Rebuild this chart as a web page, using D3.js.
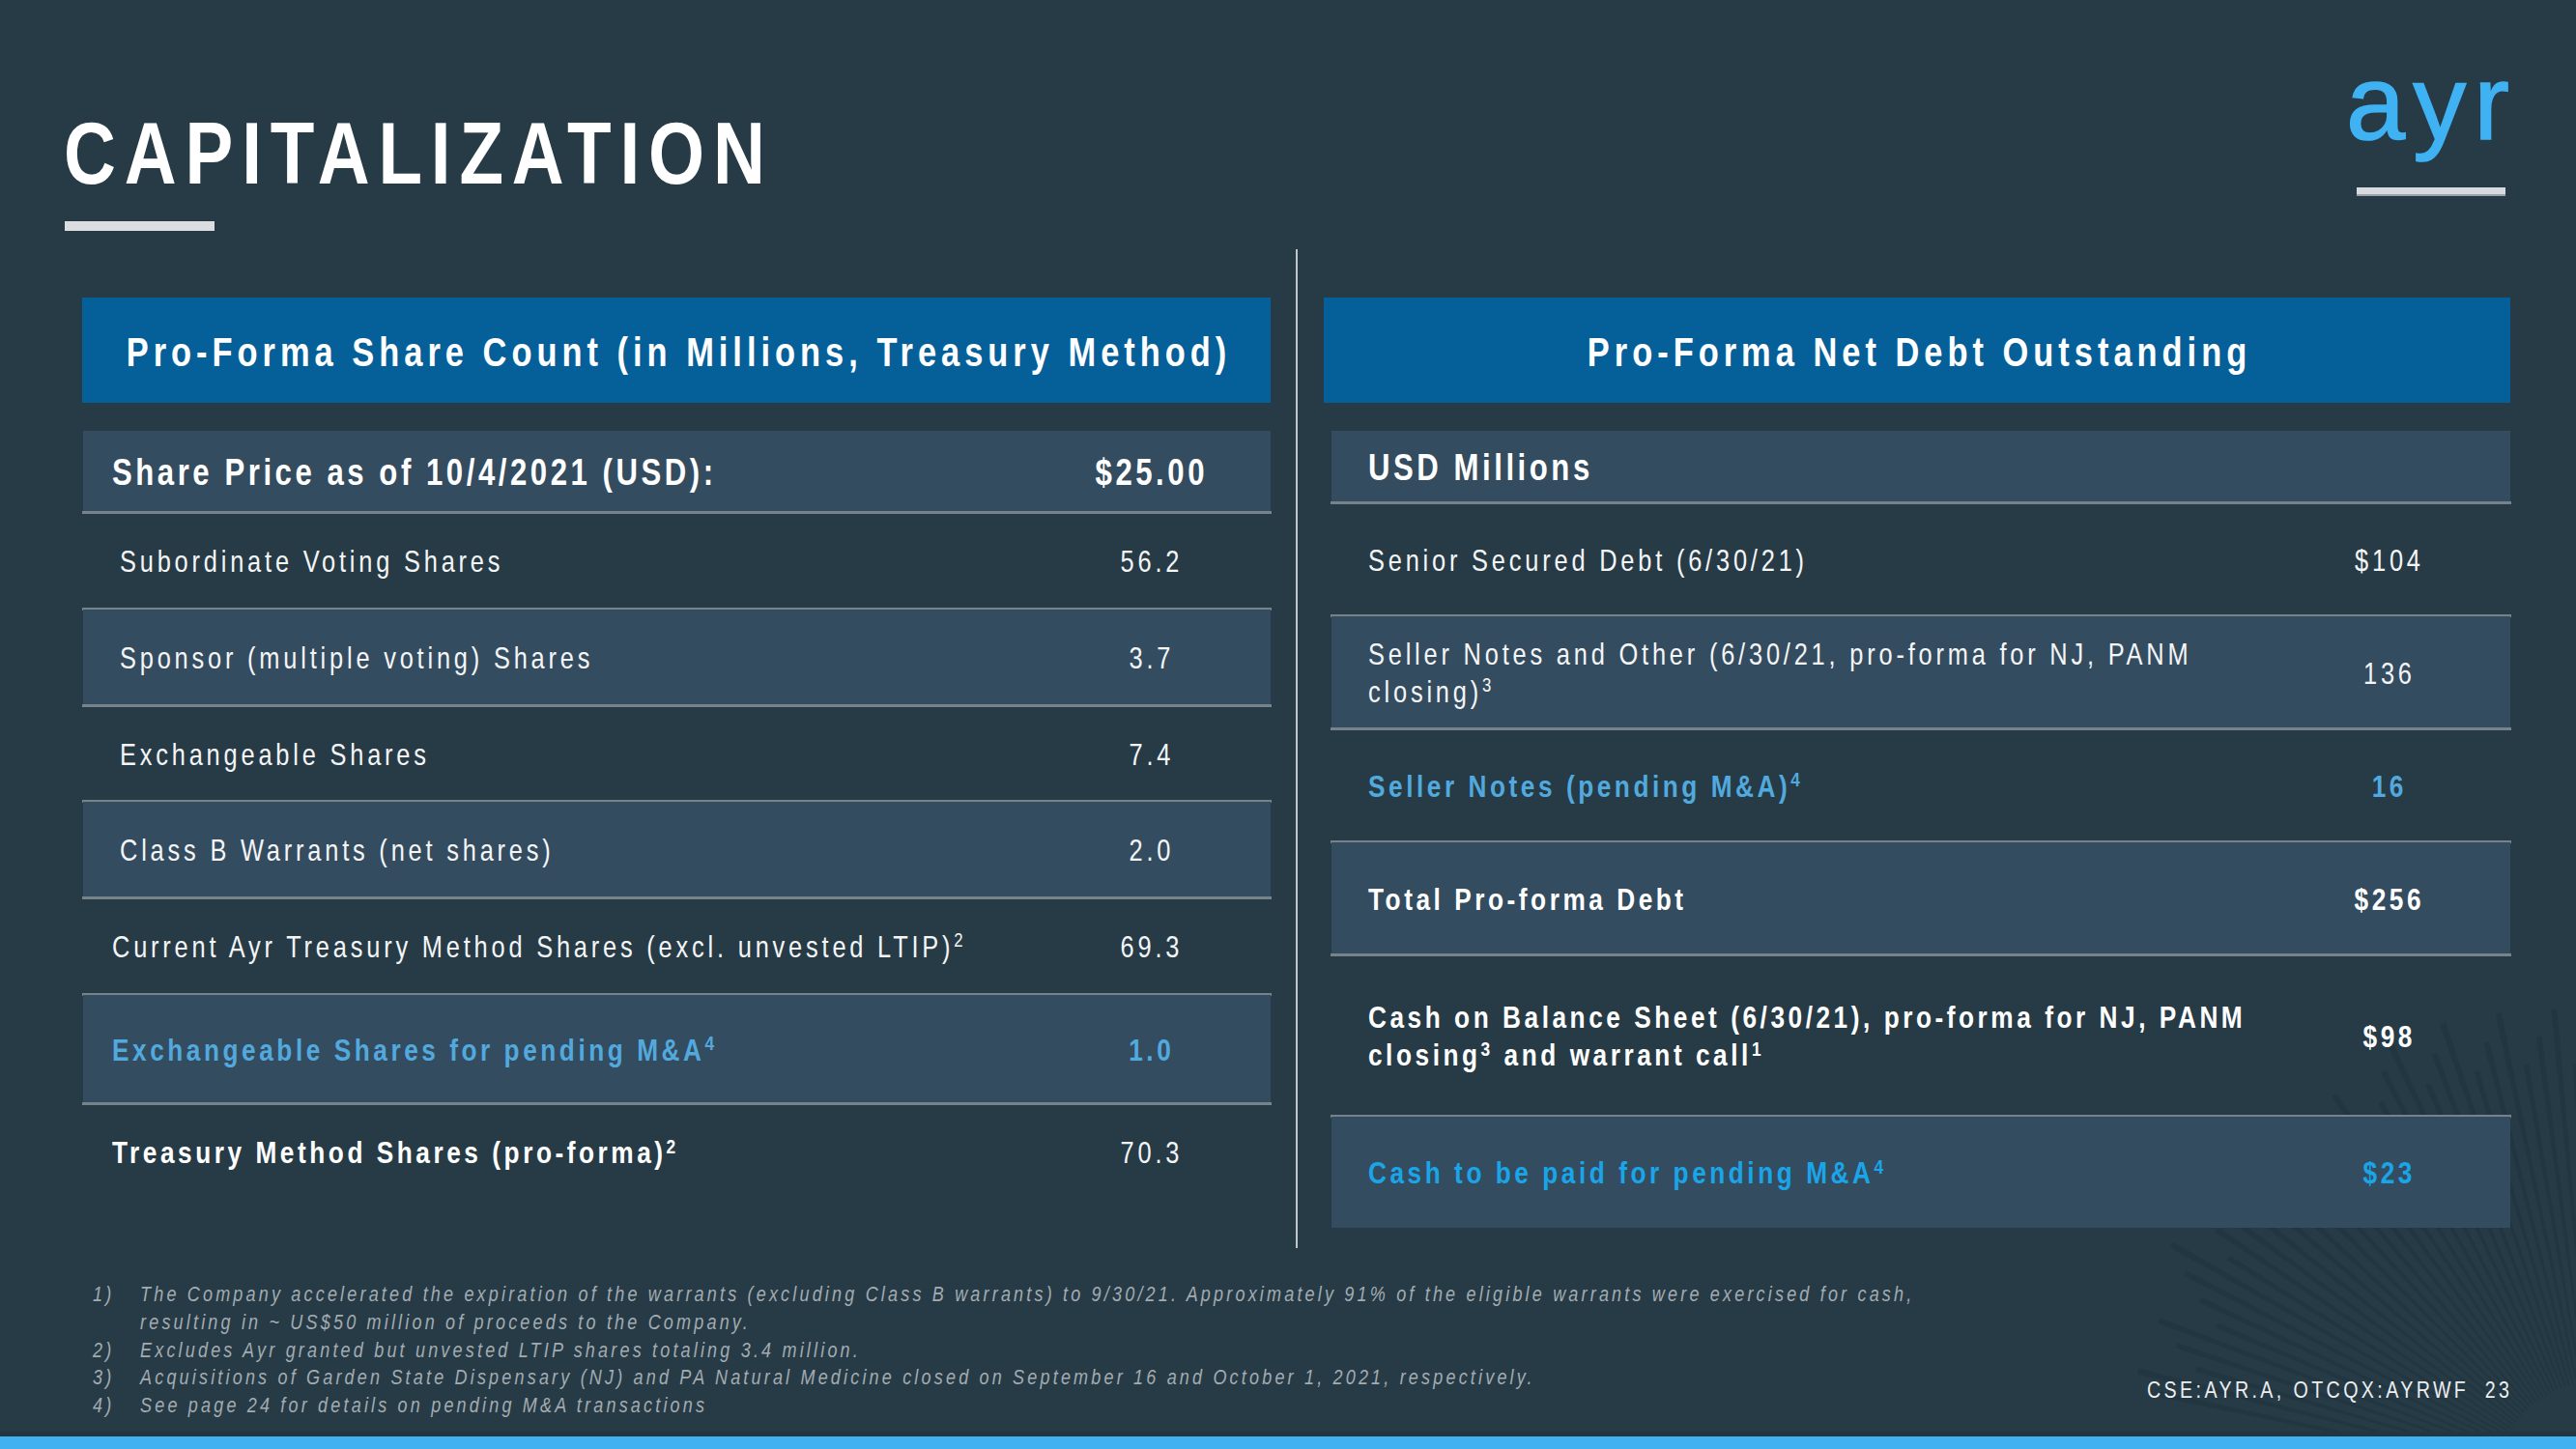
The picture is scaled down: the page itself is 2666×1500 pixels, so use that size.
<!DOCTYPE html>
<html>
<head>
<meta charset="utf-8">
<script src="https://cdn.jsdelivr.net/npm/d3@7"></script>
<style>
  html, body { margin: 0; padding: 0; background: #263b46; }
  svg { display: block; }
  text { font-family: "Liberation Sans", Arial, sans-serif; }
</style>
</head>
<body>
<div id="slide"></div>
<script>
// ---- slide content ----
const slideTitle = "CAPITALIZATION";
const logoText = "ayr";
const leftTitle = "Pro-Forma Share Count (in Millions, Treasury Method)";
const rightTitle = "Pro-Forma Net Debt Outstanding";

// "^n" marks a footnote superscript, "\n" a line break
const shareLabels = [
  "Share Price as of 10/4/2021 (USD):",
  "Subordinate Voting Shares",
  "Sponsor (multiple voting) Shares",
  "Exchangeable Shares",
  "Class B Warrants (net shares)",
  "Current Ayr Treasury Method Shares (excl. unvested LTIP)^2",
  "Exchangeable Shares for pending M&A^4",
  "Treasury Method Shares (pro-forma)^2"
];
const shareValues = ["$25.00", "56.2", "3.7", "7.4", "2.0", "69.3", "1.0", "70.3"];

const debtLabels = [
  "USD Millions",
  "Senior Secured Debt (6/30/21)",
  "Seller Notes and Other (6/30/21, pro-forma for NJ, PANM\nclosing)^3",
  "Seller Notes (pending M&A)^4",
  "Total Pro-forma Debt",
  "Cash on Balance Sheet (6/30/21), pro-forma for NJ, PANM\nclosing^3 and warrant call^1",
  "Cash to be paid for pending M&A^4"
];
const debtValues = ["", "$104", "136", "16", "$256", "$98", "$23"];

const footNumbers = ["1)", "", "2)", "3)", "4)"];
const footLines = [
  "The Company accelerated the expiration of the warrants (excluding Class B warrants) to 9/30/21.  Approximately 91% of the eligible warrants were exercised for cash,",
  "resulting in ~ US$50 million of proceeds to the Company.",
  "Excludes Ayr granted but unvested LTIP shares totaling 3.4 million.",
  "Acquisitions of Garden State Dispensary (NJ) and PA Natural Medicine closed on September 16 and October 1, 2021, respectively.",
  "See page 24 for details on pending M&A transactions"
];
const tickerText = "CSE:AYR.A, OTCQX:AYRWF";
const pageNumber = "23";

// ---- look ----
const W = 2666, H = 1500;
const bg = "#263b46";
const rowFill = "#344c60";
const headFill = "#05609a";
const ruleColor = "#77838b";
const softBlue = "#52a9dd";
const cyan = "#19a5e8";
const white = "#ffffff";

const NARROW = 0.82; // Arial Narrow look: Liberation Sans squeezed horizontally

const styles = {
  title:   { size: 91, weight: 700, sx: NARROW, ref: "CAPITALIZATION", width: 726 },
  head:    { size: 42, weight: 700, sx: NARROW, ref: "Pro-Forma Share Count (in Millions, Treasury Method)", width: 1139 },
  rowHead: { size: 38, weight: 700, sx: NARROW, ref: "Share Price as of 10/4/2021", width: 492 },
  body:    { size: 31, weight: 400, sx: NARROW, ref: "Current Ayr Treasury Method Shares (excl. unvested LTIP)", width: 868 },
  bold:    { size: 32, weight: 700, sx: NARROW, ref: "Cash on Balance Sheet (6/30/21), pro-forma for NJ, PANM", width: 905 },
  foot:    { size: 22, weight: 400, sx: NARROW, italic: true, ref: footLines[0], width: 1837 },
  ticker:  { size: 24, weight: 400, sx: NARROW, ref: tickerText, width: 330 },
  logo:    { size: 110, weight: 400, sx: 1, ref: logoText, width: 169 }
};

const svg = d3.select("#slide").append("svg")
  .attr("width", W).attr("height", H);

svg.append("rect").attr("width", W).attr("height", H).attr("fill", bg);

// letter-spacing per style, fitted so a known string gets its measured width
const probe = svg.append("text").attr("x", -5000).attr("y", -100);
Object.values(styles).forEach(st => {
  probe.attr("font-size", st.size)
    .attr("font-weight", st.weight)
    .attr("font-style", st.italic ? "italic" : "normal")
    .attr("letter-spacing", 0)
    .text(st.ref);
  const natural = probe.node().getComputedTextLength();
  st.ls = (st.width / st.sx - natural) / (st.ref.length - 1);
});
probe.remove();

const capHalf = st => 0.716 * st.size / 2;

function addRich(t, str) {
  str.split(/(\^\d)/).forEach(part => {
    if (!part) return;
    if (part[0] === "^") {
      t.append("tspan").attr("baseline-shift", "55%").attr("font-size", "66%").text(part.slice(1));
    } else {
      t.append("tspan").text(part);
    }
  });
}

function label(g, str, x, y, st, anchor, fill) {
  const shift = anchor === "middle" ? st.ls * st.sx / 2 : anchor === "end" ? st.ls * st.sx : 0;
  const t = g.append("text")
    .attr("transform", `translate(${x + shift},${y}) scale(${st.sx},1)`)
    .attr("text-anchor", anchor || "start")
    .attr("font-size", st.size)
    .attr("font-weight", st.weight)
    .attr("font-style", st.italic ? "italic" : "normal")
    .attr("letter-spacing", st.ls)
    .attr("fill", fill);
  addRich(t, str);
  return t;
}

// ---- faint starburst, bottom right ----
const rays = svg.append("g").attr("fill", "#1f333e").attr("opacity", 0.55);
const cx = 2690, cy = 1540;
d3.range(192, 278, 2.2).forEach(a => {
  const r0 = 110, r1 = 430 + (a % 7) * 12;
  const t0 = (a - 0.35) * Math.PI / 180, t1 = (a + 0.35) * Math.PI / 180;
  rays.append("path").attr("d",
    `M${cx + r0 * Math.cos(t0)},${cy + r0 * Math.sin(t0)}` +
    `L${cx + r1 * Math.cos(t0)},${cy + r1 * Math.sin(t0)}` +
    `L${cx + r1 * Math.cos(t1)},${cy + r1 * Math.sin(t1)}` +
    `L${cx + r0 * Math.cos(t1)},${cy + r0 * Math.sin(t1)}Z`);
});

// ---- title + logo ----
label(svg, slideTitle, 66, 190, styles.title, "start", white);
svg.append("rect").attr("x", 67).attr("y", 229).attr("width", 155).attr("height", 10).attr("fill", "#dcdde0");

label(svg, logoText, 2428, 144, styles.logo, "start", "#3fb2f3")
  .attr("stroke", "#3fb2f3").attr("stroke-width", 1.5);
svg.append("rect").attr("x", 2439).attr("y", 194).attr("width", 154).attr("height", 9).attr("fill", "#d9dadf");
svg.append("rect").attr("x", 2439).attr("y", 201).attr("width", 154).attr("height", 2).attr("fill", "#9aa0a8");

// vertical divider
svg.append("line").attr("x1", 1342).attr("x2", 1342).attr("y1", 258).attr("y2", 1292)
  .attr("stroke", "#bfc5ca").attr("stroke-width", 2);

// ---- tables ----
function drawTable(cfg) {
  const g = svg.append("g");
  const y = d3.scaleLinear().domain(d3.range(cfg.edges.length)).range(cfg.edges);
  const nRows = cfg.labels.length;

  g.append("rect").attr("x", cfg.h0).attr("y", 308)
    .attr("width", cfg.x1 - cfg.h0).attr("height", 109).attr("fill", headFill);
  label(g, cfg.title, (cfg.h0 + cfg.x1) / 2, 364 + capHalf(styles.head), styles.head, "middle", white);

  const rows = g.selectAll("g.row").data(d3.range(nRows)).join("g").attr("class", "row");

  rows.filter(i => i % 2 === 0).append("rect")
    .attr("x", cfg.x0 + 1).attr("width", cfg.x1 - cfg.x0 - 1)
    .attr("y", i => y(i)).attr("height", i => y(i + 1) - y(i) - 1)
    .attr("fill", rowFill);

  rows.filter(i => i < nRows - 1).append("rect")
    .attr("x", cfg.x0).attr("width", cfg.x1 - cfg.x0 + 1)
    .attr("y", i => y(i + 1) - 2).attr("height", 3)
    .attr("fill", ruleColor);

  rows.each(function (i) {
    const row = d3.select(this);
    const mid = (y(i) + y(i + 1)) / 2;
    const look = cfg.looks[i];
    const lines = cfg.labels[i].split("\n");
    const lineGap = 39;
    lines.forEach((ln, k) => {
      const c = mid + (k - (lines.length - 1) / 2) * lineGap;
      label(row, ln, cfg.labelX(i), c + capHalf(look.st), look.st, "start", look.color);
    });
    const v = cfg.values[i];
    if (v) {
      const vl = cfg.valueLooks[i];
      label(row, v, cfg.valueX, mid + capHalf(vl.st), vl.st, "middle", vl.color);
    }
  });
}

const plain = { st: styles.body, color: "#f4f5f6" };
const strong = { st: styles.bold, color: white };
const headRow = { st: styles.rowHead, color: white };
const blueRow = { st: styles.bold, color: softBlue };
const cyanRow = { st: styles.bold, color: cyan };

drawTable({
  title: leftTitle,
  labels: shareLabels,
  values: shareValues,
  h0: 85, x0: 85, x1: 1315,
  edges: [446, 531, 631, 731, 830, 930, 1030, 1143, 1243],
  labelX: i => (i >= 1 && i <= 4 ? 124 : 116),
  valueX: 1190,
  looks: [headRow, plain, plain, plain, plain, plain, blueRow, strong],
  valueLooks: [headRow, plain, plain, plain, plain, plain, blueRow, plain]
});

drawTable({
  title: rightTitle,
  labels: debtLabels,
  values: debtValues,
  h0: 1370, x0: 1377, x1: 2598,
  edges: [446, 521, 638, 755, 872, 989, 1156, 1272],
  labelX: () => 1416,
  valueX: 2471,
  looks: [headRow, plain, plain, blueRow, strong, strong, cyanRow],
  valueLooks: [headRow, plain, plain, blueRow, strong, strong, cyanRow]
});

// ---- footnotes ----
const footY = d3.scaleLinear().domain([0, footLines.length - 1]).range([1347, 1462]);
const foot = svg.append("g");
footLines.forEach((ln, i) => {
  if (footNumbers[i]) label(foot, footNumbers[i], 96, footY(i), styles.foot, "start", "#a3abb1");
  label(foot, ln, 145, footY(i), styles.foot, "start", "#a3abb1");
});

// ticker + page number
label(svg, tickerText, 2222, 1447, styles.ticker, "start", "#eceef0");
label(svg, pageNumber, 2597, 1447, styles.ticker, "end", "#eceef0");

// bottom bar
svg.append("rect").attr("x", 0).attr("y", 1482).attr("width", W).attr("height", 5).attr("fill", "#22363f");
svg.append("rect").attr("x", 0).attr("y", 1487).attr("width", W).attr("height", 13).attr("fill", "#42b1f1");
</script>
</body>
</html>
